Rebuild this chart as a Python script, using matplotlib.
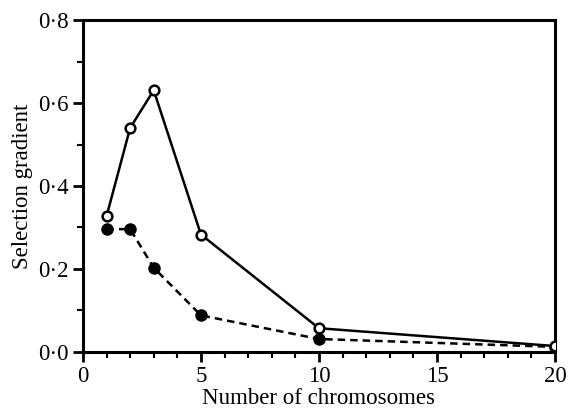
import numpy as np
import matplotlib.pyplot as plt
from matplotlib.ticker import MultipleLocator, FuncFormatter

plt.rcParams['font.family'] = ['Liberation Serif', 'DejaVu Serif']

# Number of chromosomes
chrom = [1, 2, 3, 5, 10, 20]
# open circles (solid line)
open_vals = [0.327, 0.540, 0.631, 0.283, 0.057, 0.014]
# filled circles (dashed line)
filled_vals = [0.296, 0.296, 0.203, 0.088, 0.031, 0.012]

fig = plt.figure(figsize=(5.68, 4.12), dpi=100)
ax = fig.add_axes([0.146, 0.146, 0.831, 0.805])

ax.plot(chrom, filled_vals, color='black', lw=1.8, ls=(0, (3, 2)),
        marker='o', ms=8, mfc='black', mec='black', zorder=3)
ax.plot(chrom, open_vals, color='black', lw=1.8, ls='-',
        marker='o', ms=7, mfc='white', mec='black', mew=1.8, zorder=4)

ax.set_xlim(0, 20)
ax.set_ylim(0, 0.8)
ax.xaxis.set_major_locator(MultipleLocator(5))
ax.xaxis.set_minor_locator(MultipleLocator(1))
ax.yaxis.set_major_locator(MultipleLocator(0.2))
ax.yaxis.set_minor_locator(MultipleLocator(0.1))
ax.yaxis.set_major_formatter(FuncFormatter(lambda v, p: f"{v:.1f}".replace('.', '\u00b7')))

for s in ax.spines.values():
    s.set_linewidth(2.2)
ax.tick_params(which='major', direction='out', length=7, width=2, labelsize=16.5, pad=3)
ax.tick_params(which='minor', direction='out', length=4, width=1.5)

ax.set_xlabel('Number of chromosomes', fontsize=16.5, labelpad=1)
ax.set_ylabel('Selection gradient', fontsize=16.5, labelpad=4)

fig.savefig('out.png', dpi=100)
